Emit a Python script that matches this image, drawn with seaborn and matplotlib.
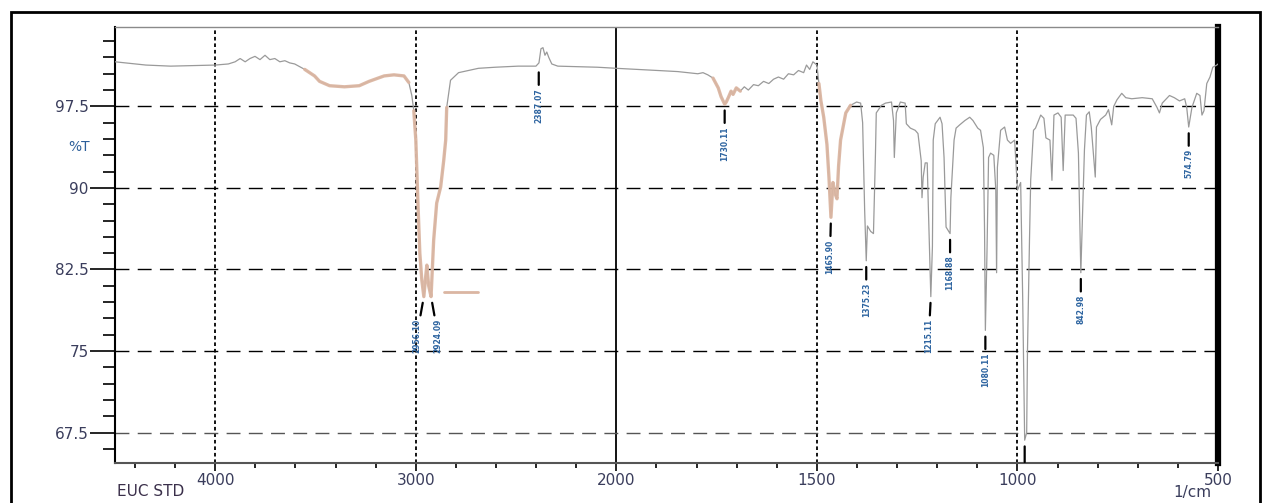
import numpy as np
import pandas as pd
import matplotlib
matplotlib.use("Agg")
import matplotlib.pyplot as plt
import seaborn as sns
from matplotlib.ticker import FixedLocator, FixedFormatter, NullFormatter
from matplotlib.patches import Rectangle

# ---------------- data ----------------
wavenumber = [4500, 4346, 4223, 4000, 3935, 3901, 3876, 3851, 3827, 3802, 3777, 3752, 3728, 3703,
              3678, 3653, 3629, 3604, 3554, 3505, 3480, 3430, 3356, 3282, 3233, 3158, 3109, 3059,
              3035, 3020, 3010, 3000, 2990, 2980, 2970, 2960, 2950, 2945, 2936, 2924, 2911, 2896,
              2876, 2861, 2851, 2846, 2827, 2787, 2688, 2604, 2490, 2401, 2386, 2376, 2366, 2356,
              2347, 2337, 2322, 2292, 2094, 2000, 1947, 1897, 1847, 1797, 1784, 1772, 1759, 1746,
              1739, 1730, 1726, 1721, 1714, 1709, 1701, 1691, 1681, 1671, 1658, 1646, 1633, 1620,
              1608, 1596, 1583, 1571, 1558, 1546, 1533, 1526, 1518, 1510, 1500, 1495, 1490, 1483,
              1475, 1470, 1465, 1460, 1455, 1450, 1446, 1441, 1428, 1416, 1401, 1391, 1386, 1381,
              1377, 1374, 1366, 1359, 1354, 1352, 1339, 1329, 1314, 1309, 1307, 1302, 1292, 1280,
              1277, 1267, 1255, 1248, 1240, 1238, 1235, 1230, 1225, 1222, 1216, 1212, 1210, 1205,
              1193, 1188, 1183, 1178, 1168, 1166, 1158, 1153, 1144, 1131, 1119, 1111, 1099, 1092,
              1085, 1082, 1080, 1076, 1072, 1067, 1059, 1054, 1052, 1050, 1042, 1032, 1025, 1017,
              1007, 1000, 992, 987, 982, 977, 975, 970, 967, 960, 955, 942, 934, 929, 919, 914, 909,
              899, 891, 886, 881, 874, 861, 854, 848, 842, 833, 828, 821, 816, 806, 803, 793, 780,
              773, 765, 760, 752, 740, 730, 715, 689, 664, 652, 646, 639, 621, 609, 596, 583, 578,
              573, 565, 553, 545, 540, 535, 528, 520, 513, 503, 500]
transmittance = [101.6, 101.3, 101.2, 101.3, 101.4, 101.6, 101.9, 101.6, 101.9, 102.1, 101.8, 102.2,
                 101.8, 101.9, 101.6, 101.7, 101.5, 101.4, 100.9, 100.3, 99.8, 99.4, 99.3, 99.4,
                 99.8, 100.3, 100.4, 100.3, 99.7, 98.5, 97.1, 94.4, 88.9, 84.0, 81.5, 80.0, 82.0,
                 82.9, 81.0, 80.0, 85.2, 88.6, 90.1, 92.5, 94.4, 97.4, 99.9, 100.6, 101.0, 101.1,
                 101.2, 101.2, 101.5, 102.8, 102.9, 102.2, 102.5, 102.0, 101.4, 101.2, 101.1, 101.0,
                 100.9, 100.8, 100.7, 100.5, 100.6, 100.4, 100.1, 99.2, 98.4, 97.7, 97.9, 98.3,
                 98.9, 98.6, 99.2, 98.9, 99.3, 99.0, 99.5, 99.4, 99.8, 99.6, 100.0, 100.2, 100.0,
                 100.5, 100.4, 100.8, 100.6, 101.3, 100.9, 101.6, 101.3, 99.6, 98.0, 96.5, 94.0,
                 91.0, 87.3, 90.5, 89.5, 89.0, 92.0, 94.4, 96.9, 97.6, 97.9, 97.8, 96.0, 88.0, 83.3,
                 86.5, 86.0, 85.8, 93.2, 96.9, 97.6, 97.8, 97.9, 96.2, 92.8, 96.9, 97.9, 97.8, 95.9,
                 95.5, 95.3, 95.0, 92.5, 89.1, 91.0, 92.3, 92.3, 88.0, 80.0, 84.6, 94.4, 95.9, 96.5,
                 95.9, 92.8, 86.4, 85.8, 89.1, 94.4, 95.5, 95.8, 96.2, 96.5, 96.2, 95.5, 95.3, 93.7,
                 86.0, 76.9, 84.0, 92.8, 93.2, 93.0, 89.8, 82.2, 91.9, 95.3, 95.6, 94.4, 94.1, 94.4,
                 89.8, 90.5, 80.0, 66.8, 67.5, 75.0, 85.2, 90.7, 95.3, 95.5, 96.7, 96.4, 94.6, 94.4,
                 90.7, 96.7, 96.9, 96.5, 91.6, 96.7, 96.7, 96.7, 96.4, 93.2, 82.2, 93.5, 96.7, 97.0,
                 95.6, 91.0, 95.6, 96.3, 96.7, 97.2, 95.8, 97.5, 98.1, 98.7, 98.3, 98.2, 98.3, 98.2,
                 97.4, 96.9, 97.8, 98.5, 98.3, 98.0, 98.2, 97.4, 95.6, 97.4, 98.7, 98.5, 96.7, 97.1,
                 99.6, 100.2, 101.1, 101.3, 101.4]

# wavenumber ranges drawn in the highlight colour (high, low)
highlight_ranges = [(3560, 3030), (3012, 2846), (1762, 1690), (1497, 1410)]
baseline_mark_wn = [2861, 2688]
baseline_mark_T = [80.4, 80.4]

# peak picks (the 982 peak label falls below the plot area, only its marker shows)
peak_wn = [2960, 2924, 2387, 1730, 1465, 1377, 1216, 1168, 1080, 982, 842, 573]
peak_T = [80.0, 80.0, 101.2, 97.7, 87.3, 83.3, 80.0, 85.8, 76.9, 66.8, 82.2, 95.6]
peak_text = ["2956.10", "2924.09", "2387.07", "1730.11", "1465.90", "1375.23", "1215.11",
             "1168.88", "1080.11", "", "842.98", "574.79"]
label_dx = [-7, 7, 0, 0, -1, 0, -2, 0, 0, 0, 0, 0]

x_major = [4000, 3000, 2000, 1500, 1000, 500]
x_labels = ["4000", "3000", "2000", "1500", "1000", "500"]
x_minor = [4400, 4200, 3800, 3600, 3400, 3200, 2800, 2600, 2400, 2200,
           1900, 1800, 1700, 1600, 1400, 1300, 1200, 1100, 900, 800, 700, 600]
y_major = [97.5, 90, 82.5, 75, 67.5]
y_labels = ["97.5", "90", "82.5", "75", "67.5"]
y_minor = [103.5, 102, 100.5, 99, 96, 94.5, 93, 91.5, 88.5, 87, 85.5, 84, 81, 79.5, 78, 76.5,
           73.5, 72, 70.5, 69, 66]

# ---------------- style ----------------
sns.set_style("white")
plt.rcParams['font.family'] = ['DejaVu Sans']

df = pd.DataFrame({"wn": wavenumber, "T": transmittance})

fig = plt.figure(figsize=(12.71, 5.03), dpi=100)
ax = fig.add_axes([115 / 1271, 1 - 463 / 503, (1218 - 115) / 1271, (463 - 27) / 503])


def fwd(w):
    w = np.asarray(w, dtype=float)
    return np.where(w > 2000, 2000 + (w - 2000) / 2.0, w)


def inv(p):
    p = np.asarray(p, dtype=float)
    return np.where(p > 2000, 2000 + (p - 2000) * 2.0, p)


ax.set_xscale('function', functions=(fwd, inv))

# grid lines
for xv in [4000, 3000, 1500, 1000]:
    ax.axvline(xv, color='black', lw=1.3, ls=(0, (2, 1.6)), zorder=1)
ax.axvline(2000, color='black', lw=1.3, zorder=1)
for yv in y_major:
    c = '#555555' if yv == 67.5 else 'black'
    ax.axhline(yv, color=c, lw=1.0, ls=(0, (10, 6)), zorder=1)

# spectrum
sns.lineplot(data=df, x="wn", y="T", ax=ax, color='#9a9a9a', lw=0.9,
             estimator=None, sort=False, zorder=3)
for hi, lo in highlight_ranges:
    sub = df[(df.wn <= hi) & (df.wn >= lo)]
    sns.lineplot(data=sub, x="wn", y="T", ax=ax, color='#dbb6a2', lw=2.4,
                 estimator=None, sort=False, zorder=4, alpha=0.95)
sns.lineplot(x=baseline_mark_wn, y=baseline_mark_T, ax=ax, color='#dbb6a2', lw=2.0,
             estimator=None, sort=False, zorder=4)

# peak labels
for w, t, s, dx in zip(peak_wn, peak_T, peak_text, label_dx):
    ann = ax.annotate(s, xy=(w, t), xytext=(dx, -22), textcoords='offset pixels',
                      rotation=90, ha='center', va='top', fontsize=5.5, fontweight='bold',
                      color='#2d64a0', annotation_clip=True,
                      arrowprops=dict(arrowstyle='-', lw=1.6, color='black',
                                      shrinkA=0, shrinkB=4.5))
    ann.set_clip_on(True)
    ann.set_clip_box(ax.bbox)
    if ann.arrow_patch is not None:
        ann.arrow_patch.set_clip_box(ax.bbox)
        ann.arrow_patch.set_clip_on(True)

ax.set_xlim(4500, 500)
ax.set_ylim(64.7, 104.8)

ax.xaxis.set_major_locator(FixedLocator(x_major))
ax.xaxis.set_major_formatter(FixedFormatter(x_labels))
ax.xaxis.set_minor_locator(FixedLocator(x_minor))
ax.xaxis.set_minor_formatter(NullFormatter())
ax.yaxis.set_major_locator(FixedLocator(y_major))
ax.yaxis.set_major_formatter(FixedFormatter(y_labels))
ax.yaxis.set_minor_locator(FixedLocator(y_minor))
ax.yaxis.set_minor_formatter(NullFormatter())

ax.tick_params(axis='y', which='major', length=18, width=1.2, pad=1, labelsize=11,
               labelcolor='#3a3d5c', color='black', left=True)
ax.tick_params(axis='y', which='minor', length=8.5, width=1.2, color='black', left=True)
ax.tick_params(axis='x', which='major', length=6, width=1.2, pad=1, labelsize=11,
               labelcolor='#3a3d5c', color='black', bottom=True)
ax.tick_params(axis='x', which='minor', length=3.5, width=1.2, color='black', bottom=True)

ax.set_xlabel("")
ax.set_ylabel("")

for side in ['left', 'bottom', 'top', 'right']:
    ax.spines[side].set_visible(True)
ax.spines['left'].set_color('black')
ax.spines['left'].set_linewidth(1.5)
ax.spines['bottom'].set_color('#555555')
ax.spines['bottom'].set_linewidth(1.5)
ax.spines['top'].set_color('#8a8a8a')
ax.spines['top'].set_linewidth(1.0)
ax.spines['right'].set_color('black')
ax.spines['right'].set_linewidth(4.5)

ax.text(-25 / 1103, 93.75, "%T", transform=ax.get_yaxis_transform(), ha='right',
        va='center', fontsize=10, color='#2d5f9a')

fig.text(117 / 1271, 1 - 491 / 503, "EUC STD", ha='left', va='center', fontsize=11,
         color='#3a2f4a')
fig.text(1192 / 1271, 1 - 492 / 503, "1/cm", ha='center', va='center', fontsize=11,
         color='#3a3d5c')

fig.add_artist(Rectangle((11 / 1271, -0.05), (1260 - 11) / 1271, 1 - 12 / 503 + 0.05,
                         transform=fig.transFigure, fill=False, lw=2.0, ec='black',
                         clip_on=False))

fig.savefig("out.png", dpi=100)
